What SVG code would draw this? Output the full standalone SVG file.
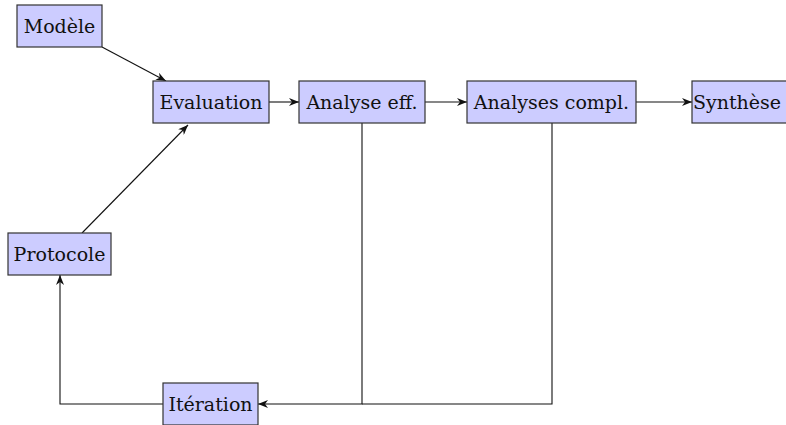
<svg xmlns="http://www.w3.org/2000/svg" width="786" height="425" viewBox="0 0 786 425">
<style>
.box{fill:#ccccff;stroke:#333;stroke-width:1.2}
.lbl{font-family:"DejaVu Serif","Liberation Serif",serif;font-size:19px;fill:#111;text-anchor:middle}
.edge{fill:none;stroke:#111;stroke-width:1.1}
</style>
<defs>
<marker id="arr" viewBox="0 0 10 8" refX="10" refY="4" markerWidth="10" markerHeight="8" markerUnits="userSpaceOnUse" orient="auto">
<path d="M0,0 L10,4 L0,8 L3,4 Z" fill="#111"/>
</marker>
</defs>
<rect width="786" height="425" fill="#fff"/>
<g id="connectors">
<line class="edge" x1="102" y1="47" x2="166" y2="81" marker-end="url(#arr)"/>
<line class="edge" x1="82" y1="233" x2="188" y2="125" marker-end="url(#arr)"/>
<line class="edge" x1="269" y1="102" x2="299" y2="102" marker-end="url(#arr)"/>
<line class="edge" x1="425" y1="102" x2="467" y2="102" marker-end="url(#arr)"/>
<line class="edge" x1="636" y1="102" x2="692" y2="102" marker-end="url(#arr)"/>
<polyline class="edge" points="362,123 362,404 258,404" marker-end="url(#arr)"/>
<polyline class="edge" points="552,123 552,404 362,404"/>
<polyline class="edge" points="163,404 60,404 60,275" marker-end="url(#arr)"/>
</g>
<g id="modele"><rect class="box" x="17" y="5" width="85" height="42"/><text class="lbl" x="59.5" y="33">Modèle</text></g>
<g id="evaluation"><rect class="box" x="153" y="81" width="116" height="42"/><text class="lbl" x="211" y="109">Evaluation</text></g>
<g id="analyse-eff"><rect class="box" x="299" y="81" width="126" height="42"/><text class="lbl" x="362" y="109">Analyse eff.</text></g>
<g id="analyses-compl"><rect class="box" x="467" y="81" width="169" height="42"/><text class="lbl" x="551.5" y="109">Analyses compl.</text></g>
<g id="synthese"><rect class="box" x="692" y="81" width="100" height="42"/><text class="lbl" x="737" y="109">Synthèse</text></g>
<g id="protocole"><rect class="box" x="8" y="233" width="103" height="42"/><text class="lbl" x="59.5" y="261">Protocole</text></g>
<g id="iteration"><rect class="box" x="163" y="383" width="95" height="42"/><text class="lbl" x="210.5" y="411">Itération</text></g>
</svg>
